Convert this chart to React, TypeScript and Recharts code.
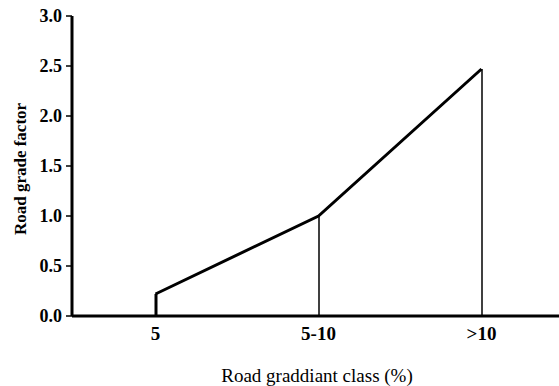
import React from 'react';
import { ComposedChart, Line, Bar, XAxis, YAxis, Label } from 'recharts';

const categories = ['5', '5-10', '>10'];
const gradeFactor = [0.22, 1.0, 2.47];
const yTicks = [0, 0.5, 1.0, 1.5, 2.0, 2.5, 3.0];

const data = categories.map((c, i) => ({ name: c, factor: gradeFactor[i] }));

const FONT = '"Liberation Serif", "Times New Roman", serif';

// thin drop line from each point down to the axis
const DropLine = (props: any) => {
  const { x, y, width, height, index } = props;
  const cx = x + width / 2;
  return (
    <line
      x1={cx}
      x2={cx}
      y1={y}
      y2={y + height}
      stroke="#000"
      strokeWidth={index === 0 ? 3 : 1.5}
    />
  );
};

const App: React.FC = () => {
  return (
    <div style={{ position: 'fixed', left: 0, top: 0, width: 559, height: 386, overflow: 'hidden', background: '#fff' }}>
      <ComposedChart
        width={559}
        height={386}
        data={data}
        margin={{ top: 16, right: -4, left: 0, bottom: 0 }}
      >
        <XAxis
          dataKey="name"
          height={70}
          tickLine={false}
          tickSize={0}
          tickMargin={11}
          padding={{ left: 2, right: 0 }}
          axisLine={{ stroke: '#000', strokeWidth: 3 }}
          tick={{ fill: '#000', fontFamily: FONT, fontSize: 19, fontWeight: 'bold' }}
        >
          <Label
            content={({ viewBox }: any) => (
              <text
                x={317}
                y={viewBox.y + 66}
                textAnchor="middle"
                fontFamily={FONT}
                fontSize={19}
                fill="#000"
              >
                Road graddiant class (%)
              </text>
            )}
          />
        </XAxis>
        <YAxis
          width={72}
          domain={[0, 3]}
          ticks={yTicks}
          interval={0}
          tickSize={6}
          tickMargin={4}
          tickFormatter={(v: number) => v.toFixed(1)}
          axisLine={{ stroke: '#000', strokeWidth: 3 }}
          tickLine={{ stroke: '#000', strokeWidth: 1.5 }}
          tick={{ fill: '#000', fontFamily: FONT, fontSize: 18, fontWeight: 'bold' }}
        >
          <Label
            content={({ viewBox }: any) => {
              const cy = viewBox.y + viewBox.height / 2 + 3;
              return (
                <text
                  x={20}
                  y={cy}
                  transform={`rotate(-90, 20, ${cy})`}
                  textAnchor="middle"
                  dominantBaseline="central"
                  fontFamily={FONT}
                  fontSize={17}
                  fontWeight="bold"
                  fill="#000"
                >
                  Road grade factor
                </text>
              );
            }}
          />
        </YAxis>
        <Bar dataKey="factor" barSize={2} shape={<DropLine />} isAnimationActive={false} />
        <Line
          type="linear"
          dataKey="factor"
          stroke="#000"
          strokeWidth={3}
          dot={false}
          activeDot={false}
          isAnimationActive={false}
        />
      </ComposedChart>
    </div>
  );
};

export default App;
